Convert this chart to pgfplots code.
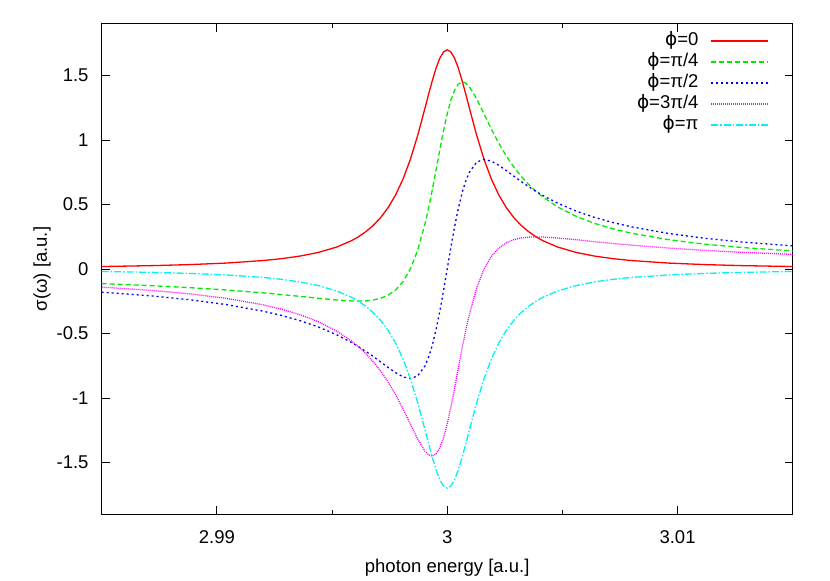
\documentclass[border=0pt]{standalone}
\usepackage{pgfplots}
\pgfplotsset{compat=1.18}
\usepackage{pgfplotstable}
\usepackage{fontspec}
\setmainfont{Liberation Sans}
\newfontfamily\symf{DejaVu Sans}
\newcommand{\ph}{{\symf ϕ}}

\pgfplotstableread{
x s0 s1 s2 s3 s4
2.985 0.0191 -0.11326 -0.1793 -0.14031 -0.0191
2.9872 0.02615 -0.12946 -0.20923 -0.16644 -0.02615
2.9888 0.034 -0.14425 -0.238 -0.19233 -0.034
2.9904 0.04595 -0.16244 -0.27568 -0.22742 -0.04595
2.992 0.06538 -0.18494 -0.32692 -0.2774 -0.06538
2.9928 0.08 -0.19798 -0.36 -0.31112 -0.08
2.9936 0.1 -0.21213 -0.4 -0.35354 -0.1
2.9944 0.1283 -0.2268 -0.44906 -0.40825 -0.1283
2.9952 0.17 -0.24042 -0.51 -0.48083 -0.17
2.99584 0.21908 -0.24784 -0.56959 -0.55767 -0.21908
2.996138 0.249 -0.24895 -0.60107 -0.60109 -0.249
2.99648 0.29109 -0.247 -0.64041 -0.65867 -0.29109
2.9968 0.34 -0.24042 -0.68 -0.72125 -0.34
2.99712 0.40095 -0.2268 -0.7217 -0.79383 -0.40095
2.99744 0.47753 -0.2026 -0.76405 -0.87793 -0.47753
2.99776 0.57433 -0.16244 -0.80405 -0.97466 -0.57433
2.99808 0.69673 -0.09852 -0.83606 -1.08384 -0.69673
2.9984 0.85 0 -0.85 -1.20208 -0.85
2.99872 1.03659 0.14661 -0.82926 -1.31936 -1.03659
2.99904 1.25 0.35354 -0.75001 -1.41421 -1.25
2.9992 1.36 0.48083 -0.68 -1.4425 -1.36
2.999338 1.45126 0.60135 -0.60081 -1.45103 -1.45126
2.99952 1.55963 0.77198 -0.46789 -1.43368 -1.55963
2.99968 1.63462 0.92468 -0.32693 -1.387 -1.63462
2.99984 1.68317 1.07116 -0.16832 -1.3092 -1.68317
3.0 1.7 1.20208 0 -1.20208 -1.7
3.00016 1.68317 1.3092 0.16832 -1.07116 -1.68317
3.00032 1.63462 1.387 0.32693 -0.92468 -1.63462
3.00048 1.55963 1.43368 0.46789 -0.77198 -1.55963
3.000662 1.45126 1.45103 0.60081 -0.60135 -1.45126
3.0008 1.36 1.4425 0.68 -0.48083 -1.36
3.00096 1.25 1.41421 0.75001 -0.35354 -1.25
3.00128 1.03659 1.31936 0.82926 -0.14661 -1.03659
3.0016 0.85 1.20208 0.85 0 -0.85
3.00192 0.69673 1.08384 0.83606 0.09852 -0.69673
3.00224 0.57433 0.97466 0.80405 0.16244 -0.57433
3.00256 0.47753 0.87793 0.76405 0.2026 -0.47753
3.00288 0.40095 0.79383 0.7217 0.2268 -0.40095
3.0032 0.34 0.72125 0.68 0.24042 -0.34
3.00352 0.29109 0.65867 0.64041 0.247 -0.29109
3.003862 0.249 0.60109 0.60107 0.24895 -0.249
3.00416 0.21908 0.55767 0.56959 0.24784 -0.21908
3.0048 0.17 0.48083 0.51 0.24042 -0.17
3.0056 0.1283 0.40825 0.44906 0.2268 -0.1283
3.0064 0.1 0.35354 0.4 0.21213 -0.1
3.0072 0.08 0.31112 0.36 0.19798 -0.08
3.008 0.06538 0.2774 0.32692 0.18494 -0.06538
3.0096 0.04595 0.22742 0.27568 0.16244 -0.04595
3.0112 0.034 0.19233 0.238 0.14425 -0.034
3.0128 0.02615 0.16644 0.20923 0.12946 -0.02615
3.015 0.0191 0.14031 0.1793 0.11326 -0.0191
}\datatable

\definecolor{gpred}{rgb}{1,0,0}
\definecolor{gpgreen}{rgb}{0,0.92,0}
\definecolor{gpblue}{rgb}{0,0,1}
\definecolor{gpmag}{rgb}{1,0,1}
\definecolor{gpcyan}{rgb}{0,0.95,0.95}

\begin{document}
\begin{tikzpicture}[font=\fontsize{18.5bp}{22bp}\selectfont]
\path[use as bounding box] (-101.7bp,-67bp) rectangle (728.3bp,514bp);
\begin{axis}[
  at={(0,0)}, anchor=south west,
  scale only axis, width=691bp, height=490bp,
  xmin=2.985, xmax=3.015, ymin=-1.9, ymax=1.9,
  scaled ticks=false,
  xtick={2.99,3,3.01}, xticklabels={2.99,3,3.01},
  minor xtick={2.995,3.005},
  ytick={-1.5,-1,-0.5,0,0.5,1,1.5},
  yticklabels={-1.5,-1,-0.5,0,0.5,1,1.5},
  tick align=inside, tick pos=both,
  major tick length=8bp, minor tick length=4bp,
  every tick/.style={black, line width=0.8bp},
  axis line style={line width=1bp},
  xticklabel style={anchor=center, yshift=-23bp},
  yticklabel style={anchor=east, inner sep=0pt, xshift=-13bp},
  xlabel={photon energy [a.u.]},
  ylabel={σ(ω) [a.u.]},
  every axis x label/.style={at={(axis description cs:0.5,-0.1102)}, anchor=center},
  every axis y label/.style={at={(axis description cs:-0.0864,0.5)}, anchor=center, rotate=90},
  legend style={draw=none, fill=none, at={(axis description cs:0.9657,0.9873)}, anchor=north east,
    inner sep=0pt, row sep=0pt, column sep=10bp,
    nodes={inner sep=2bp, text height=13bp, text depth=4bp}},
  legend cell align=right,
  legend plot pos=right,
  legend image code/.code={\draw[#1] (0bp,0bp) -- (57bp,0bp);},
]
\addplot[gpred, line width=1.3bp] table[x=x,y=s0]{\datatable};
\addlegendentry{\ph=0}
\addplot[gpgreen, line width=1.3bp, dash pattern=on 5bp off 3bp] table[x=x,y=s1]{\datatable};
\addlegendentry{\ph=π/4}
\addplot[gpblue, line width=1.3bp, dash pattern=on 2bp off 3bp] table[x=x,y=s2]{\datatable};
\addlegendentry{\ph=π/2}
\addplot[gpmag, line width=1.3bp, dash pattern=on 1bp off 1bp] table[x=x,y=s3]{\datatable};
\addlegendentry{\ph=3π/4}
\addplot[gpcyan, line width=1.3bp, dash pattern=on 7bp off 2bp on 1.5bp off 2bp] table[x=x,y=s4]{\datatable};
\addlegendentry{\ph=π}
\end{axis}
\end{tikzpicture}
\end{document}
